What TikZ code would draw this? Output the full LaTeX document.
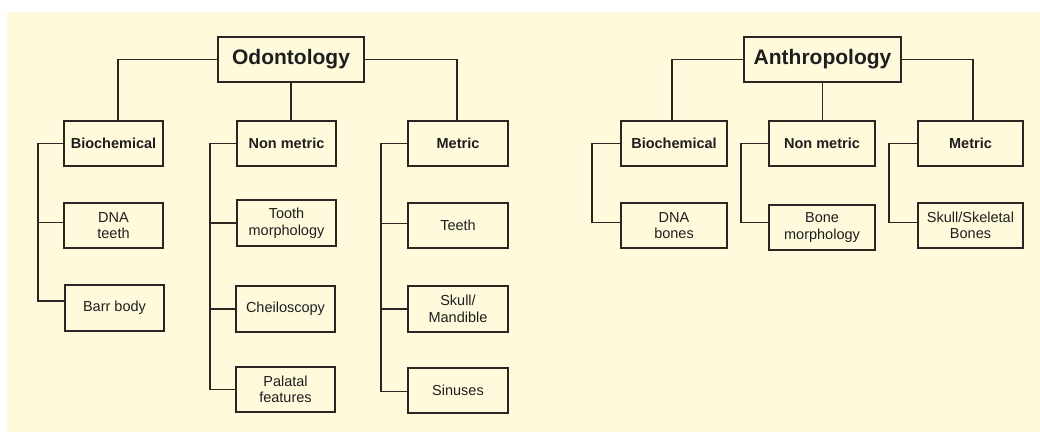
\documentclass[tikz,border=0pt]{standalone}
\usepackage{fontspec}
\setmainfont{Liberation Sans}
\definecolor{cream}{HTML}{FFFADC}
\definecolor{ink}{HTML}{2B2622}
\definecolor{txt}{HTML}{1E1E1E}
\begin{document}
\begin{tikzpicture}[x=1pt,y=-1pt,
  box/.style={draw=ink,line width=1.6pt,fill=cream,inner sep=0pt,align=center,text=txt,
    font=\fontsize{14.5}{16.5}\selectfont},
  catbox/.style={box,minimum height=45pt,font=\fontsize{14.5}{16.5}\selectfont\bfseries},
  titlebox/.style={box,minimum height=45pt,font=\fontsize{21}{24}\selectfont\bfseries},
  leafbox/.style={box,minimum height=45pt},
  link/.style={draw=ink,line width=1.6pt}]
\useasboundingbox (0,0) rectangle (1040,432);
\fill[cream] (7,12) rectangle (1040,432);
% Odontology tree
\node[titlebox,minimum width=146pt] (odo) at (291,59.5) {Odontology};
\node[catbox,minimum width=99pt] (bioL) at (113.5,143.5) {Biochemical};
\node[catbox,minimum width=99pt] (nonL) at (286.5,143.5) {Non metric};
\node[catbox,minimum width=100pt] (metL) at (458,143.5) {Metric};
\node[leafbox,minimum width=99pt] (dnat) at (113.5,225.5) {DNA\\teeth};
\node[leafbox,minimum width=99pt,minimum height=46pt] (barr) at (114.5,308) {Barr body};
\node[leafbox,minimum width=99pt,minimum height=46pt] (tooth) at (286.5,223) {Tooth\\morphology};
\node[leafbox,minimum width=99pt,minimum height=46pt] (cheil) at (285.5,309) {Cheiloscopy};
\node[leafbox,minimum width=99pt] (palat) at (285.5,389.5) {Palatal\\features};
\node[leafbox,minimum width=100pt] (teeth) at (458,225.5) {Teeth};
\node[leafbox,minimum width=100pt,minimum height=46pt] (skull) at (458,309) {Skull/\\Mandible};
\node[leafbox,minimum width=100pt] (sinus) at (458,390.5) {Sinuses};
% Anthropology tree
\node[titlebox,minimum width=157pt] (ant) at (822.5,59.5) {Anthropology};
\node[catbox,minimum width=106pt] (bioR) at (674,143.5) {Biochemical};
\node[catbox,minimum width=106pt] (nonR) at (822,143.5) {Non metric};
\node[catbox,minimum width=105pt] (metR) at (970.5,143.5) {Metric};
\node[leafbox,minimum width=106pt] (dnab) at (674,225.5) {DNA\\bones};
\node[leafbox,minimum width=106pt] (bone) at (822,227.5) {Bone\\morphology};
\node[leafbox,minimum width=105pt] (skel) at (970.5,225.5) {Skull/Skeletal\\Bones};
% connectors: top level
\draw[link] (odo.west) -| ([xshift=4.5pt]bioL.north);
\draw[link] (odo.south) -- (nonL.north -| odo.south);
\draw[link] (odo.east) -| ([xshift=-1pt]metL.north);
\draw[link] (ant.west) -| ([xshift=-2pt]bioR.north);
\draw[link] (ant.south) -- (ant.south |- nonR.north);
\draw[link] (ant.east) -| ([xshift=2.5pt]metR.north);
% connectors: buses
\draw[link] (bioL.west) -- +(-25,0) coordinate (bL) |- ([yshift=7pt]barr.west);
\draw[link] (bL) |- ([yshift=3pt]dnat.west);
\draw[link] (nonL.west) -- +(-26,0) coordinate (nL) |- ([yshift=0pt]palat.west);
\draw[link] (nL) |- (tooth.west);
\draw[link] (nL) |- (cheil.west);
\draw[link] (metL.west) -- +(-26,0) coordinate (mL) |- ([yshift=-1pt]sinus.west);
\draw[link] (mL) |- ([yshift=2pt]teeth.west);
\draw[link] (mL) |- (skull.west);
\draw[link] (bioR.west) -- +(-28,0) coordinate (bR) |- ([yshift=3pt]dnab.west);
\draw[link] (nonR.west) -- +(-27,0) coordinate (nR) |- ([yshift=5pt]bone.west);
\draw[link] (metR.west) -- +(-28,0) coordinate (mR) |- ([yshift=3pt]skel.west);
\end{tikzpicture}
\end{document}
